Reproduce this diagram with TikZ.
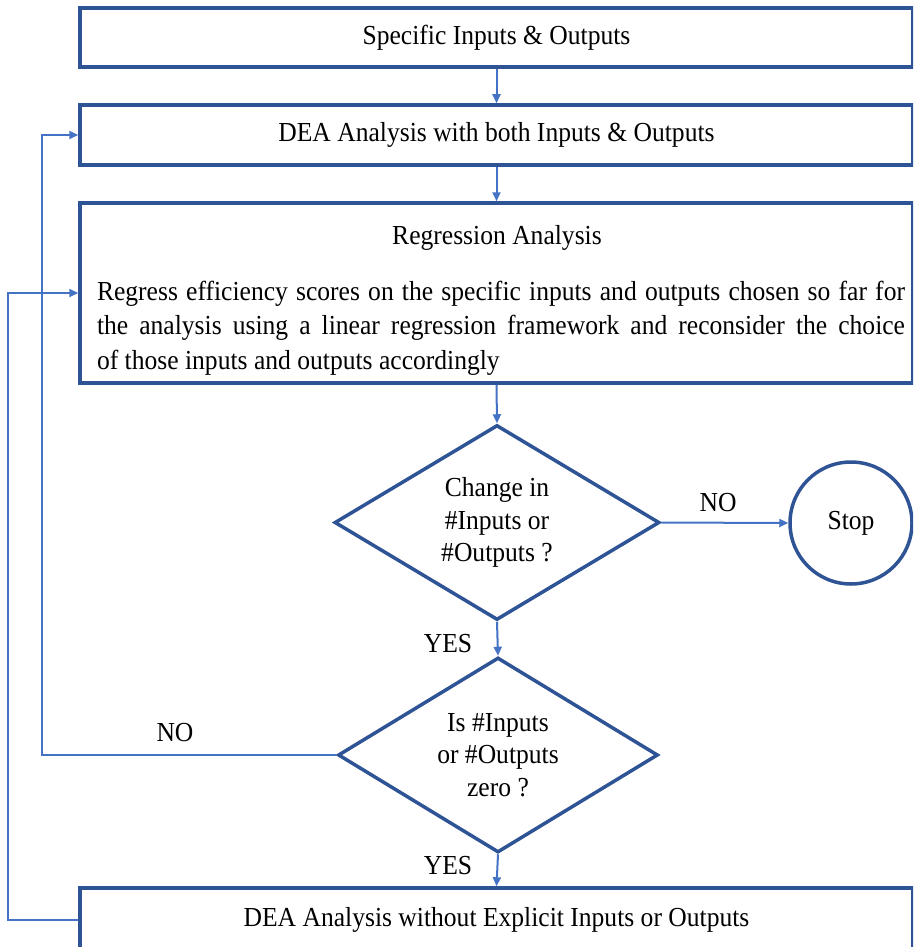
\documentclass[tikz,border=0pt]{standalone}
\usepackage{fontspec}
\setmainfont{Liberation Serif}[FakeStretch=0.93]
\usetikzlibrary{shapes.geometric,arrows.meta}
\definecolor{boxblue}{RGB}{47,84,150}
\definecolor{linkblue}{RGB}{68,114,196}
\begin{document}
\begin{tikzpicture}[x=1pt,y=-1pt,
 box/.style={draw=boxblue,line width=3.5pt,rectangle,inner sep=0pt,font=\fontsize{27.5}{32}\selectfont},
 dec/.style={draw=boxblue,line width=3.5pt,diamond,inner sep=0pt,align=center,font=\fontsize{27.5}{32.5}\selectfont},
 link/.style={draw=linkblue,line width=2pt,-{Triangle[length=9pt,width=8pt]}},
 lbl/.style={font=\fontsize{27.5}{32}\selectfont,inner sep=0pt}]
\useasboundingbox (0,0) rectangle (913,947);
\clip (0,0) rectangle (913,947);
\coordinate (l1) at (42,0);
\coordinate (l2) at (8,0);
\node[box,minimum width=833pt,minimum height=59pt] (b1) at (496.5,37.5) {Specific Inputs \& Outputs};
\node[box,minimum width=833pt,minimum height=60pt] (b2) at (496.5,135) {DEA Analysis with both Inputs \& Outputs};
\node[box,minimum width=833pt,minimum height=180pt] (b3) at (496.5,293) {};
\node[lbl] (t3) at (497,238) {Regression Analysis};
\node[lbl,text width=808pt,align=justify,font=\fontsize{27.5}{34.5}\selectfont] (p3) at (501,328) {\spaceskip=\fontdimen2\font plus \fontdimen3\font\relax Regress efficiency scores on the specific inputs and outputs chosen so far for\linebreak the analysis using a linear regression framework and reconsider the choice\linebreak of those inputs and outputs accordingly};
\node[dec,minimum width=325pt,minimum height=195pt,aspect=1.667] (d1) at (497,522.5) {Change in\\\#Inputs or\\\#Outputs ?};
\node[draw=boxblue,line width=3.5pt,circle,minimum size=122pt,inner sep=0pt,font=\fontsize{27.5}{32}\selectfont] (stop) at (851,523) {Stop};
\node[dec,minimum width=320pt,minimum height=195pt,aspect=1.64] (d2) at (498,755) {Is \#Inputs\\or \#Outputs\\zero ?};
\node[box,minimum width=833pt,minimum height=64pt] (b4) at (496.5,920) {DEA Analysis without Explicit Inputs or Outputs};
\node[lbl] (no1) at (718,503) {NO};
\node[lbl] (yes1) at (448,644) {YES};
\node[lbl] (no2) at (175,733) {NO};
\node[lbl] (yes2) at (448,866) {YES};
\draw[link] (b1.south) -- (b2.north);
\draw[link] (b2.south) -- (b3.north);
\draw[link] (b3.south) -- (d1.north);
\draw[link] (d1.east) -- (stop.west);
\draw[link] (d1.south) -- (d2.north);
\draw[link] (d2.south) -- (b4.north);
\draw[link] (d2.west) -- (d2.west -| l1) |- (b2.west);
\draw[link] (b4.west) -- (b4.west -| l2) |- (b3.west);
\end{tikzpicture}
\end{document}
